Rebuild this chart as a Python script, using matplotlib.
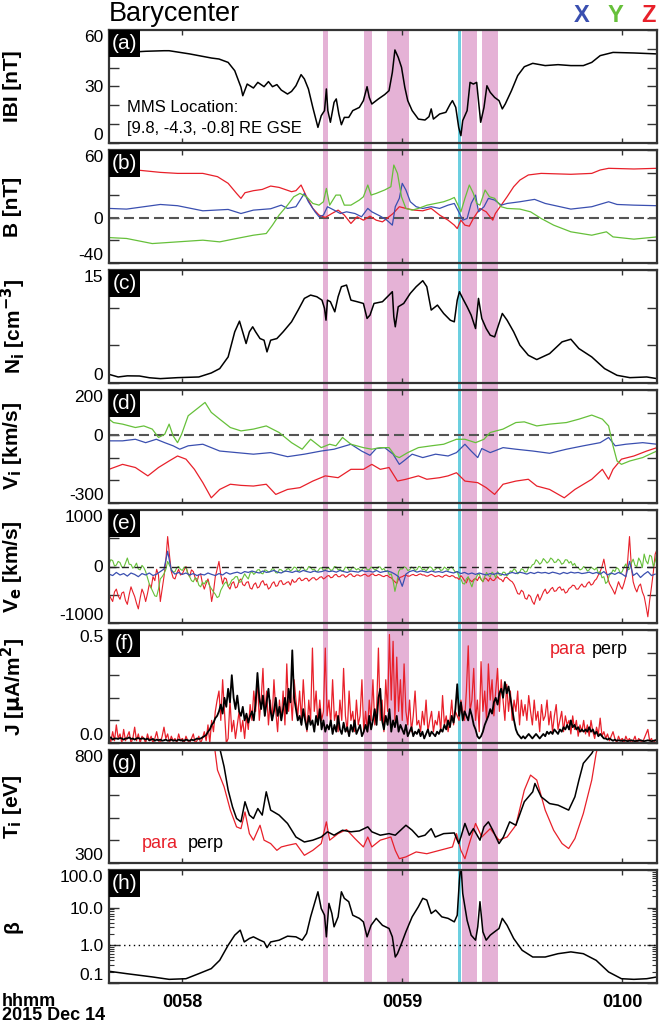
import numpy as np
import matplotlib
matplotlib.use('Agg')
import matplotlib.pyplot as plt
from matplotlib.patches import Rectangle
from matplotlib.ticker import FixedLocator, NullFormatter, LogLocator

plt.rcParams['font.family'] = ['Liberation Sans', 'DejaVu Sans']

# ---------------- time axis (seconds after 00:57:40 UT) ----------------
T_MIN, T_MAX = 0.0, 149.5
time_ticks = [20, 80, 140]
time_labels = ['0058', '0059', '0100']

pink_bands = [(58.5, 59.7), (69.5, 71.7), (75.8, 81.8), (96.3, 100.4), (101.7, 106.1)]
cyan_bands = [(95.2, 96.0)]

# ---------------- (a) |B| ----------------
bmag_t = [0, 4.8, 10, 15, 16.4, 22, 28, 30, 32.5, 34.3, 36, 36.5, 37.7, 39.4, 40.6, 42.3, 43.5,
          44.6, 45.8, 47, 48.7, 49.8, 51, 52.4, 53.3, 54.4, 55.6, 57, 57.9, 58.8, 59.3, 59.7,
          60.4, 61.4, 62, 62.7, 63.4, 64.2, 65.4, 66.5, 68.3, 69.4, 70.4, 71, 71.7, 73.5, 75.2,
          76.4, 77.3, 78, 78.9, 79.8, 80.7, 81.5, 82.7, 84.4, 86.2, 87.3, 87.9, 88.5, 90.2, 91.9,
          93.1, 93.7, 94.6, 95.4, 96, 96.5, 97.7, 98.5, 99.4, 100.3, 100.8, 101.4, 102.3, 103.1,
          104, 105.2, 106.4, 107.3, 108.1, 109.8, 111.5, 113.3, 115.6, 119, 122.5, 126, 129.4,
          131.7, 134, 137.5, 143.2, 149.5]
bmag_v = [47.6, 48.1, 48.7, 49.0, 49.0, 47.3, 45.1, 44.6, 42.8, 38.4, 29.6, 25.1, 31.3, 29.2, 32.2,
          29.9, 32.6, 29.9, 31.0, 28.1, 26.0, 27.4, 30.4, 36.3, 34.0, 28.7, 18.9, 8.3, 14.5, 17.2,
          28.7, 17.2, 11.0, 21.6, 23.4, 15.4, 9.7, 13.6, 13.6, 17.2, 18.9, 22.5, 29.9, 24.2, 20.7,
          23.4, 25.7, 27.8, 37.5, 49.4, 45.5, 40.2, 29.6, 22.5, 17.2, 12.7, 12.2, 14.0, 18.1, 12.7,
          15.4, 16.3, 20.7, 22.5, 18.9, 8.3, 3.9, 11.9, 17.2, 32.2, 31.3, 32.2, 22.5, 11.0, 18.9,
          30.4, 26.9, 24.2, 22.5, 18.1, 20.7, 27.8, 35.8, 40.5, 42.3, 41.1, 41.6, 41.1, 41.1, 42.8,
          46.4, 48.1, 47.8, 47.3]

# ---------------- (b) B components ----------------
bz_t = [0, 4.8, 14, 18.7, 25.6, 29.6, 32.5, 34.8, 36, 37.1, 39.4, 41.8, 44.1, 46.4, 49.8, 51, 52.4,
        53.9, 55.6, 57.3, 59, 60.8, 62.5, 64.2, 66, 67.7, 69.4, 71.2, 72.9, 74.6, 75.8, 77.5, 79.2,
        81, 83.3, 85.6, 87.9, 90.2, 92.5, 94.2, 95, 96, 97.1, 98.3, 99.4, 101.2, 102.9, 104.7,
        105.4, 107, 108.6, 110.4, 112.1, 114.4, 117.9, 126, 131.7, 134, 136.3, 143.2, 149.5]
bz_v = [43.8, 43.2, 40.2, 39.3, 39.3, 36.4, 30.5, 21.6, 17.2, 22.2, 24.0, 25.1, 28.1, 26.9, 23.1,
        24.0, 29.0, 18.6, 8.3, 2.4, 0.3, 3.8, 6.8, 2.4, -5.0, 0.9, -2.1, 1.5, -2.1, -3.6, -0.6,
        3.8, 9.8, 8.3, 6.8, 6.2, 8.3, 2.4, -2.1, -6.5, -9.5, -2.1, -6.5, -7.4, -0.6, 8.3, 5.3,
        -2.1, 3.8, 11.2, 18.6, 27.5, 33.4, 37.9, 39.3, 38.5, 39.3, 42.3, 43.8, 43.2, 43.8]

bx_t = [0, 4.8, 14, 18.7, 25.6, 32.5, 36, 39.4, 44.1, 47, 48.7, 51, 53.3, 54.4, 56.2, 57.3, 58.5,
        59.6, 61.4, 63.1, 64.8, 67.1, 68.9, 70.6, 71.7, 74, 75.8, 77.3, 78.1, 79.2, 80, 81, 82.2,
        83.8, 85.6, 87.9, 90.2, 92.5, 94.2, 95.4, 96.5, 97.7, 98.8, 100, 100.8, 102.3, 103.5,
        105.2, 107, 108.6, 112.1, 116.1, 119, 126, 131.7, 136.3, 138.6, 143.2, 149.5]
bx_v = [8.3, 7.7, 11.8, 10.7, 6.2, 7.4, 3.8, 6.8, 8.0, 11.2, 8.3, 9.8, 21.6, 14.2, 5.3, 0.9, 2.4,
        9.8, 6.8, 3.8, 5.3, 3.8, 0.9, 8.3, 5.3, 1.5, -2.1, -6.5, 9.8, 17.2, 30.5, 24.6, 14.2, 9.8,
        8.3, 9.8, 8.3, 11.2, 12.7, 5.3, -2.1, -0.6, 12.7, 20.1, 5.3, 9.8, 17.2, 15.7, 11.2, 12.7,
        14.2, 16.3, 12.7, 7.7, 9.8, 14.2, 11.8, 11.2, 10.7]

by_t = [0, 4.8, 11.8, 18.7, 25.6, 30.2, 34.8, 39.4, 42.9, 44.6, 46.4, 48.7, 50.4, 52.1, 53.9, 55.6,
        57.3, 58.5, 59.3, 60.2, 61.9, 63.1, 64.2, 66, 68.3, 69.4, 70.6, 71.5, 72.9, 75.2, 76.9,
        77.7, 78.7, 79.8, 81, 82.7, 84.4, 86.8, 89.1, 91.3, 93.1, 94.2, 95.4, 96, 97.1, 98.3,
        99.4, 100.3, 101.2, 102.6, 103.8, 105.2, 107, 108.6, 112.1, 115, 117.9, 121.3, 126,
        131.7, 135.7, 137.5, 143.2, 149.5]
by_v = [-17.5, -18.3, -22.8, -21.3, -19.8, -21.3, -18.3, -15.4, -13.9, -6.5, 2.4, 11.2, 18.6, 21.6,
        18.6, 12.7, 11.2, 14.2, 26.0, 11.2, 20.1, 20.1, 11.2, 11.2, 15.7, 18.6, 29.0, 20.1, 21.6,
        24.6, 27.5, 46.7, 39.3, 18.6, 8.3, 6.8, 8.3, 11.2, 12.7, 14.2, 16.3, 18.0, 9.8, 5.3, 17.2,
        29.0, 21.6, 12.7, 11.2, 24.6, 18.6, 17.2, 9.8, 8.3, 7.7, 5.3, -0.6, -6.5, -12.4, -15.4,
        -12.4, -16.9, -18.9, -16.9]

# ---------------- (c) Ni ----------------
ni_t = [0, 2.5, 5, 8.3, 11, 14, 18.7, 24.5, 27.9, 30.2, 32.5, 34.3, 35.6, 36.6, 37.4, 38.3, 39.2,
        40, 41.2, 42.3, 43.1, 44.1, 45.8, 47.5, 49.8, 51.6, 53.3, 55, 56.7, 58.1, 58.8, 59.2,
        59.6, 60.4, 61.6, 62.5, 63.4, 64.8, 66, 67.7, 69.4, 70.4, 71.2, 72.3, 74.6, 76.4, 77.3,
        77.7, 78.1, 78.9, 80.4, 82.2, 83.8, 85.6, 86.7, 87.9, 89.6, 91.3, 93.1, 94.2, 95, 95.6,
        96.5, 97.7, 98.8, 100, 100.8, 101.7, 102.9, 104, 105.2, 106.4, 107.3, 108.6, 110.4,
        112.1, 114.4, 116.7, 120.2, 123.6, 126, 128.2, 131.7, 135.2, 138.6, 142.1, 146.7, 149.5]
ni_v = [1.15, 0.8, 0.95, 0.93, 0.7, 0.58, 0.71, 0.8, 1.33, 1.91, 3.46, 6.79, 8.21, 6.57, 5.24,
        6.79, 7.46, 6.79, 5.9, 5.68, 4.13, 5.68, 5.9, 6.79, 8.12, 9.68, 11.23, 11.67, 11.45, 11.0,
        9.9, 8.34, 11.0, 10.79, 9.45, 11.45, 12.78, 13.0, 11.0, 10.79, 10.56, 8.57, 9.01, 10.56,
        10.79, 11.67, 12.12, 8.79, 7.46, 10.12, 10.56, 11.9, 12.78, 13.58, 12.78, 9.68, 10.34,
        9.23, 8.34, 8.12, 11.0, 12.12, 11.23, 10.12, 9.01, 7.23, 11.23, 8.57, 7.23, 6.35, 6.12,
        7.9, 9.23, 8.34, 6.79, 5.02, 3.68, 3.11, 3.9, 5.46, 5.81, 4.57, 3.46, 1.91, 1.02, 0.71,
        0.8, 0.58]

# ---------------- (d) Vi components ----------------
viy_t = [0, 1.2, 3.7, 7.2, 9.5, 11.8, 13.5, 15.2, 16.4, 17.5, 18.7, 19.8, 21.6, 24.5, 26.2, 27.9,
         30.2, 33.1, 36, 39.4, 42.9, 46.4, 49.8, 52.7, 55, 57.9, 60.2, 61.9, 63.7, 66, 69.4, 71.7,
         74, 76.4, 78.1, 79.2, 81.5, 84.4, 87.9, 91.3, 94.8, 97.1, 100, 102.3, 104, 107.5, 111,
         113.3, 116.7, 120.2, 124.8, 128.2, 131.7, 134.6, 136.3, 137.5, 138.6, 139.8, 142.1,
         145.6, 148.5, 149.5]
viy_v = [71, 56, 49, 34, 41, 27, -10, 4, 49, -3, -33, 4, 86, 123, 145, 101, 71, 34, 19, 27, 41, 12,
         -33, -62, -18, -55, -40, -47, -10, -40, -55, -62, -55, -55, -92, -99, -77, -55, -47, -40,
         -18, -18, -33, -18, 12, 27, 56, 59, 41, 49, 56, 71, 89, 71, 41, -47, -114, -129, -114, -99,
         -77, -70]

vix_t = [0, 3.7, 7.2, 10, 12.9, 15.2, 17.5, 19.3, 21.6, 25.6, 30.2, 34.8, 39.4, 44.1, 48.7, 53.3,
         57.9, 61.4, 66, 68.9, 71.2, 72.9, 75.2, 77.5, 79.2, 80.4, 82.7, 85.6, 89.1, 92.5, 94.8,
         97.1, 98.8, 100.6, 101.7, 104, 107.5, 111, 115.6, 120.2, 124.8, 129.4, 134, 136.3, 138.1,
         141, 145.6, 149.5]
vix_v = [-25, -25, -18, -33, -18, -33, -47, -62, -47, -40, -70, -77, -84, -77, -95, -84, -70, -62,
         -40, -70, -89, -59, -55, -84, -129, -114, -84, -99, -84, -92, -77, -40, -70, -99, -59,
         -77, -55, -62, -70, -80, -62, -47, -33, -10, -47, -40, -33, -40]

viz_t = [0, 3.7, 7.2, 10.6, 13.5, 16.4, 18.7, 21, 23.3, 25.6, 27.9, 30.2, 33.1, 36, 39.4, 42.9,
         45.5, 48.7, 52.1, 55.6, 59, 62.5, 66, 69.4, 71.7, 74, 76.4, 78.7, 81, 84.4, 86.7, 90.2,
         92.5, 94.8, 97.1, 100.6, 102.9, 105.2, 107.5, 111, 114.4, 116.7, 120.2, 124.2, 127.1,
         131.7, 134.6, 136.3, 137.5, 139.8, 143.2, 146.7, 149.5]
viz_v = [-151, -129, -143, -180, -143, -114, -92, -106, -151, -210, -277, -240, -217, -222, -225,
         -217, -262, -240, -232, -203, -180, -188, -151, -151, -129, -151, -143, -203, -195, -180,
         -195, -188, -180, -166, -203, -210, -232, -262, -217, -203, -195, -225, -240, -277, -240,
         -195, -151, -195, -151, -106, -92, -70, -55]

# ---------------- (e) Ve components ----------------
# Z and Y sampled every 0.5 s, X every 1 s
ve_z = [-490, -560, -620, -450, -400, -520, -580, -470, -450, -600, -670, -500, -360, -450, -530, -650, -750, -560, -400, -480,
        -620, -480, -310, -380, -180, -250, -50, -150, -620, -400, -180, 100, 530, 200, -90, -200, -220, -120, -50, -150,
        -130, -60, 0, -120, -180, -60, -90, -200, -270, -150, -130, -300, -400, -300, -220, -350, -620, -450, -180, -50,
        90, -150, -310, -200, -220, -350, -400, -300, -270, -380, -360, -250, -220, -320, -340, -280, -270, -380, -400, -320,
        -290, -380, -360, -280, -250, -330, -310, -400, -370, -300, -270, -350, -340, -260, -250, -320, -310, -280, -270, -330,
        -230, -280, -270, -220, -200, -250, -240, -210, -210, -260, -230, -200, -200, -240, -220, -190, -180, -220, -200, -170,
        -160, -200, -190, -150, -140, -180, -180, -150, -150, -190, -170, -140, -130, -170, -180, -150, -150, -170, -160, -140,
        -140, -170, -170, -140, -130, -160, -160, -140, -150, -170, -180, -160, -160, -190, -200, -240, -270, -300, -220, -190,
        -180, -160, -150, -170, -170, -150, -140, -160, -160, -140, -130, -150, -150, -170, -170, -150, -140, -160, -180, -170,
        -160, -180, -190, -160, -150, -170, -180, -160, -170, -200, -200, -230, -160, -200, -250, -290, -200, -240, -270, -230,
        -210, -250, -180, -230, -270, -200, -220, -260, -200, -240, -250, -210, -180, -220, -230, -270, -200, -190, -220, -250,
        -270, -320, -400, -480, -490, -420, -450, -560, -580, -500, -530, -620, -670, -560, -490, -600, -530, -450, -400, -480,
        -450, -400, -370, -440, -430, -380, -360, -420, -400, -470, -450, -390, -370, -330, -340, -400, -400, -350, -310, -360,
        -360, -300, -270, -330, -310, -250, -220, -150, -90, 0, 130, -50, -180, -300, -360, -420, -490, -380, -270, -350,
        -400, -300, -180, 100, 530, 0, -270, -380, -450, -350, -310, -450, -530, -700, -890, -600, -360, -100, 220, 300]
ve_y = [45, 120, 105, 10, 25, 90, 70, -10, -20, 60, 150, 40, 35, -30, 0, 60, -45, -60, 20, -20,
        -90, -200, -310, -380, -450, -520, -530, -400, -220, -180, -130, -50, 90, 20, -45, -100, -90, -20, 0, -50,
        -70, -10, -20, -120, -180, -250, -270, -200, -220, -330, -360, -280, -310, -250, -270, -350, -400, -450, -490, -550,
        -530, -420, -360, -300, -270, -350, -310, -240, -220, -180, -180, -280, -270, -200, -130, -180, -220, -120, -90, -140,
        -110, -60, -55, -120, -130, -60, -70, -100, -90, -40, -45, -110, -115, -50, -60, -90, -90, -50, -35, -80,
        -55, -10, -20, -80, -70, -10, -25, -70, -60, 0, -10, -60, -45, -90, -80, -30, -20, -70, -55, -30,
        -25, -70, -60, 0, -10, -60, -45, -80, -70, -10, -20, -70, -55, -10, -25, -60, -35, -70, -60, -20,
        -20, -60, -55, -10, -25, -60, -45, -5, -10, -60, -35, -90, -70, -150, -130, -250, -440, -300, -90, -40,
        -45, -5, -20, -70, -60, -10, -25, -70, -55, 0, -10, -60, -45, -80, -35, -5, -20, -70, -55, -20,
        -25, -70, -60, -10, -35, -70, -20, -5, -55, -100, -90, -180, -220, -300, -310, -220, -180, -280, -360, -250,
        -220, -150, -130, -220, -270, -180, -105, -160, -180, -100, -130, -200, -90, -150, -160, -100, -105, -170, -130, -80,
        -90, -40, -70, -130, -105, -40, -55, -100, -90, -10, -25, 30, 45, 120, 90, 40, 70, 140, 105, 60,
        90, 150, 125, 70, 80, 130, 100, 40, 60, 120, 115, 60, 90, 20, 55, -10, -20, -60, -45, 0,
        -25, -80, -60, -10, -35, -60, -20, -120, -90, -200, -180, -300, -270, -150, -130, -60, -90, -20, -45, -120,
        -90, -10, 45, -60, -45, 60, 130, 20, 0, 150, 90, -20, 220, 100, 45, 200, 180, 0, 90, 250]
ve_x = [-135, -160, -105, -150, -125, -170, -115, -140, -180, -125,
        -150, -115, -160, -135, -90, -45, 270, -70, -135, -105,
        -140, -115, -150, -125, -160, -135, -150, -115, -140, -160,
        -125, -150, -105, -135, -115, -100, -125, -90, -105, -80,
        -100, -115, -80, -105, -90, -70, -100, -115, -80, -90,
        -105, -80, -100, -70, -90, -105, -80, -100, -90, -70,
        -90, -80, -100, -70, -90, -105, -80, -90, -100, -70,
        -90, -80, -100, -70, -105, -90, -80, -100, -135, -180,
        -350, -135, -90, -70, -100, -80, -90, -105, -80, -100,
        -90, -105, -80, -100, -115, -90, -125, -105, -135, -115,
        -140, -115, -135, -150, -125, -140, -115, -135, -150, -125,
        -105, -125, -100, -115, -135, -105, -125, -100, -115, -105,
        -125, -100, -115, -135, -105, -125, -100, -115, -105, -125,
        -115, -100, -125, -105, -135, -90, -150, -115, -140, -105,
        -135, -180, 90, -160, -115, -195, -135, -90, -160, -135]

# ---------------- (f) J para / perp (0.5 s samples) ----------------
j_para = [0.03, 0.005, 0.05, 0.01, 0.08, 0.02, 0.04, 0.0, 0.06, 0.01, 0.03, 0.05, 0.0, 0.02, 0.07, 0.01, 0.04, 0.0, 0.03, 0.02,
          0.0, 0.04, 0.01, 0.03, 0.0, 0.02, 0.05, 0.01, 0.0, 0.03, 0.07, 0.02, 0.04, 0.0, 0.03, 0.01, 0.02, 0.0, 0.04, 0.01,
          0.02, 0.0, 0.03, 0.01, 0.0, 0.02, 0.04, 0.0, 0.01, 0.03, 0.0, 0.02, 0.05, 0.01, 0.08, 0.0, 0.1, 0.05, 0.14, 0.19,
          0.23, 0.1, 0.28, 0.14, 0.0, 0.02, 0.19, 0.05, 0.1, 0.02, 0.08, 0.14, 0.05, 0.1, 0.02, 0.12, 0.06, 0.17, 0.1, 0.23,
          0.14, 0.28, 0.1, 0.19, 0.33, 0.12, 0.23, 0.08, 0.19, 0.1, 0.28, 0.14, 0.05, 0.19, 0.1, 0.23, 0.08, 0.35, 0.14, 0.23,
          0.1, 0.28, 0.19, 0.12, 0.23, 0.1, 0.28, 0.14, 0.05, 0.19, 0.1, 0.42, 0.14, 0.23, 0.08, 0.19, 0.1, 0.14, 0.42, 0.12,
          0.19, 0.08, 0.28, 0.1, 0.14, 0.05, 0.19, 0.1, 0.33, 0.12, 0.05, 0.23, 0.1, 0.14, 0.05, 0.19, 0.08, 0.12, 0.28, 0.05,
          0.14, 0.05, 0.19, 0.1, 0.28, 0.08, 0.14, 0.42, 0.1, 0.19, 0.05, 0.28, 0.14, 0.48, 0.19, 0.45, 0.1, 0.38, 0.14, 0.28,
          0.1, 0.35, 0.14, 0.08, 0.19, 0.05, 0.12, 0.23, 0.08, 0.1, 0.05, 0.14, 0.08, 0.19, 0.05, 0.1, 0.14, 0.05, 0.1, 0.08,
          0.14, 0.05, 0.21, 0.08, 0.12, 0.05, 0.1, 0.19, 0.08, 0.14, 0.12, 0.1, 0.19, 0.14, 0.1, 0.23, 0.43, 0.14, 0.19, 0.33,
          0.1, 0.19, 0.05, 0.36, 0.14, 0.23, 0.1, 0.35, 0.19, 0.28, 0.12, 0.23, 0.33, 0.14, 0.28, 0.19, 0.1, 0.26, 0.14, 0.23,
          0.1, 0.19, 0.14, 0.23, 0.08, 0.19, 0.12, 0.17, 0.1, 0.21, 0.14, 0.08, 0.19, 0.1, 0.14, 0.05, 0.17, 0.1, 0.12, 0.19,
          0.08, 0.14, 0.05, 0.12, 0.17, 0.06, 0.1, 0.14, 0.05, 0.12, 0.08, 0.1, 0.04, 0.12, 0.06, 0.1, 0.03, 0.08, 0.05, 0.1,
          0.04, 0.08, 0.03, 0.1, 0.05, 0.02, 0.07, 0.04, 0.11, 0.03, 0.05, 0.02, 0.04, 0.01, 0.03, 0.05, 0.02, 0.0, 0.03, 0.01,
          0.02, 0.0, 0.03, 0.01, 0.02, 0.0, 0.01, 0.03, 0.0, 0.02, 0.01, 0.0, 0.02, 0.04, 0.06, 0.01, 0.02, 0.0, 0.01, 0.02]
j_perp = [0.02, 0.025, 0.015, 0.02, 0.02, 0.018, 0.022, 0.02, 0.015, 0.02, 0.02, 0.025, 0.018, 0.02, 0.015, 0.02, 0.022, 0.018, 0.02, 0.02,
          0.015, 0.02, 0.012, 0.015, 0.018, 0.01, 0.015, 0.012, 0.015, 0.01, 0.012, 0.015, 0.01, 0.012, 0.015, 0.01, 0.012, 0.01, 0.015, 0.012,
          0.012, 0.01, 0.015, 0.012, 0.01, 0.015, 0.012, 0.015, 0.02, 0.018, 0.02, 0.025, 0.03, 0.035, 0.05, 0.06, 0.08, 0.09, 0.11, 0.12,
          0.14, 0.17, 0.13, 0.2, 0.16, 0.24, 0.18, 0.3, 0.2, 0.15, 0.21, 0.14, 0.12, 0.16, 0.1, 0.13, 0.09, 0.12, 0.14, 0.1,
          0.18, 0.31, 0.2, 0.15, 0.21, 0.12, 0.18, 0.24, 0.15, 0.1, 0.14, 0.2, 0.12, 0.16, 0.1, 0.15, 0.2, 0.13, 0.24, 0.18,
          0.41, 0.2, 0.15, 0.1, 0.12, 0.08, 0.15, 0.1, 0.06, 0.12, 0.08, 0.1, 0.05, 0.12, 0.08, 0.15, 0.06, 0.1, 0.05, 0.08,
          0.06, 0.1, 0.04, 0.08, 0.05, 0.12, 0.06, 0.04, 0.09, 0.05, 0.07, 0.03, 0.08, 0.05, 0.1, 0.04, 0.06, 0.08, 0.03, 0.05,
          0.08, 0.05, 0.12, 0.06, 0.1, 0.15, 0.08, 0.2, 0.24, 0.1, 0.06, 0.12, 0.08, 0.15, 0.05, 0.1, 0.07, 0.12, 0.05, 0.08,
          0.06, 0.04, 0.08, 0.03, 0.05, 0.07, 0.03, 0.05, 0.04, 0.06, 0.03, 0.05, 0.02, 0.04, 0.06, 0.03, 0.05, 0.04, 0.03, 0.05,
          0.04, 0.06, 0.05, 0.08, 0.06, 0.1, 0.07, 0.12, 0.09, 0.15, 0.26, 0.12, 0.18, 0.1, 0.14, 0.12, 0.1, 0.15, 0.12, 0.08,
          0.06, 0.03, 0.02, 0.03, 0.05, 0.08, 0.1, 0.12, 0.15, 0.13, 0.18, 0.2, 0.17, 0.22, 0.24, 0.2, 0.27, 0.22, 0.25, 0.2,
          0.15, 0.1, 0.06, 0.04, 0.03, 0.02, 0.03, 0.02, 0.03, 0.04, 0.03, 0.02, 0.03, 0.04, 0.03, 0.02, 0.03, 0.04, 0.03, 0.05,
          0.04, 0.05, 0.04, 0.06, 0.05, 0.04, 0.06, 0.05, 0.07, 0.06, 0.08, 0.06, 0.1, 0.07, 0.08, 0.06, 0.07, 0.05, 0.06, 0.05,
          0.06, 0.05, 0.07, 0.05, 0.06, 0.04, 0.05, 0.03, 0.04, 0.03, 0.02, 0.02, 0.015, 0.02, 0.015, 0.01, 0.015, 0.01, 0.012, 0.01,
          0.01, 0.012, 0.01, 0.008, 0.01, 0.012, 0.01, 0.008, 0.01, 0.01, 0.012, 0.01, 0.008, 0.01, 0.012, 0.01, 0.008, 0.01, 0.012, 0.01]

# ---------------- (g) Ti para / perp ----------------
tperp_t = [29.6, 31.4, 32.5, 33.7, 34.8, 36, 37.1, 38.3, 39.4, 40.6, 41.8, 42.9, 44.1, 46.4, 48.7,
           51, 53.3, 55.6, 57.9, 59.6, 61.4, 63.7, 66, 68.3, 70.6, 71.7, 74, 76.4, 78.1, 81, 82.7,
           84.4, 86.2, 87.9, 89, 91.3, 94.2, 95.4, 96, 97.1, 98.3, 99.4, 101.2, 102.3, 103.5, 104.7,
           106.4, 107.6, 109.3, 111, 113.3, 115.6, 116.2, 117.9, 120.2, 122.5, 125.4, 127.1, 128.2,
           129.4, 131.7, 133.2]
tperp_v = [850, 726, 623, 548, 497, 482, 571, 512, 497, 541, 512, 615, 534, 512, 475, 415, 393, 401,
           415, 438, 423, 445, 438, 442, 460, 438, 423, 430, 423, 467, 445, 415, 423, 452, 415, 430,
           433, 386, 415, 475, 423, 452, 401, 460, 482, 445, 386, 415, 482, 467, 571, 615, 652, 593,
           563, 556, 534, 593, 667, 741, 785, 830]
tpara_t = [28.5, 29.6, 31.4, 33.1, 34.8, 36, 37.1, 38.3, 39.4, 41.2, 42.3, 44.1, 45.8, 47, 48.7, 51,
           53.3, 55.6, 57.9, 59.3, 60.2, 62.5, 64.8, 67.1, 69.4, 70.6, 71.7, 74, 76.9, 78.1, 79.2,
           81, 83.8, 86.7, 90.2, 93.7, 94.8, 96, 97.1, 98.3, 100, 101.7, 104, 106.4, 108.6, 111,
           113.3, 115, 116.7, 119, 121.3, 123.6, 125.4, 127.1, 129.4, 131.7, 132.9, 133.8]
tpara_v = [850, 711, 637, 534, 460, 452, 526, 430, 401, 467, 401, 386, 356, 371, 378, 386, 334, 356,
           386, 482, 401, 430, 448, 408, 371, 415, 371, 401, 415, 356, 319, 327, 349, 341, 356, 371,
           430, 356, 319, 386, 475, 415, 452, 401, 415, 467, 622, 689, 667, 534, 445, 386, 364, 408,
           519, 667, 785, 840]

# ---------------- (h) beta ----------------
beta_t = [0, 4.8, 11.8, 16.4, 21, 24.5, 27.9, 30.2, 32.5, 34.3, 35.8, 36.9, 38.3, 39.4, 41.2, 42.3,
          43.1, 44.1, 46.4, 48.7, 51, 52.7, 53.9, 55, 56.2, 57, 57.9, 58.8, 59.3, 60, 60.8, 61.4,
          62.5, 63.4, 64.2, 65.4, 66.5, 68.3, 69.4, 70.4, 71.5, 72.9, 74.6, 76.4, 77.3, 78.1, 78.7,
          79.8, 81, 82.7, 84.4, 85.6, 86.7, 87.9, 89.1, 90.8, 92.5, 94.2, 95, 95.6, 96, 96.5, 97.7,
          98.8, 100, 100.6, 101.2, 102, 102.9, 104, 105.2, 106.4, 107.3, 108.6, 110.4, 112.7,
          115.6, 119, 122.5, 126, 129.4, 132.9, 136.3, 139.8, 143.2, 146.7, 149.5]
beta_v = [0.205, 0.177, 0.145, 0.125, 0.13, 0.177, 0.241, 0.401, 1.006, 1.86, 2.53, 1.23, 1.52,
          1.68, 1.37, 1.23, 0.87, 1.23, 1.37, 1.75, 1.68, 1.37, 2.06, 5.7, 14.4, 26.4, 9.5, 6.3,
          1.68, 13.0, 7.0, 3.1, 5.7, 26.4, 17.7, 14.4, 6.3, 5.2, 4.2, 1.68, 3.4, 5.2, 3.4, 2.8,
          1.68, 0.49, 0.6, 1.12, 2.29, 5.7, 10.6, 17.7, 15.9, 7.0, 8.6, 5.7, 5.2, 4.2, 6.3, 54.0,
          150.0, 23.9, 4.6, 1.86, 1.37, 3.1, 14.4, 2.29, 1.37, 1.86, 2.29, 2.8, 5.2, 3.4, 1.52,
          0.74, 0.49, 0.49, 0.6, 0.67, 0.6, 0.4, 0.196, 0.13, 0.125, 0.13, 0.145]

# ---------------- styling ----------------
RED = '#e8202a'
GREEN = '#66c03a'
BLUE = '#3a4fb0'
PINK = '#e5b2d6'
CYAN = '#6ccfe0'
FRAME = '#333333'

W, H = 661, 1026
fig = plt.figure(figsize=(W / 100, H / 100), dpi=100)
fig.patch.set_facecolor('white')


def fx(px):
    return px / W


def fy(py):
    return 1 - py / H


LEFT, RIGHT = 109, 657
PANEL_H = 113
tops = [30 + 120 * i for i in range(8)]

# background axes for shaded intervals (continuous across panels)
bg = fig.add_axes([fx(LEFT), fy(tops[-1] + PANEL_H), (RIGHT - LEFT) / W,
                   (tops[-1] + PANEL_H - tops[0]) / H], zorder=0)
bg.set_xlim(T_MIN, T_MAX)
bg.set_ylim(0, 1)
bg.axis('off')
for a, b in pink_bands:
    bg.axvspan(a, b, color=PINK, lw=0)
for a, b in cyan_bands:
    bg.axvspan(a, b, color=CYAN, lw=0)

axes = []
for i, top in enumerate(tops):
    ax = fig.add_axes([fx(LEFT), fy(top + PANEL_H), (RIGHT - LEFT) / W, PANEL_H / H], zorder=1)
    ax.set_facecolor('none')
    ax.set_xlim(T_MIN, T_MAX)
    for s in ax.spines.values():
        s.set_linewidth(1.6)
        s.set_color(FRAME)
    ax.xaxis.set_major_locator(FixedLocator(time_ticks))
    ax.tick_params(axis='x', which='major', direction='in', top=True, bottom=True,
                   length=3.6, width=1.0, color=FRAME)
    if i < 7:
        ax.set_xticklabels([])
    ax.tick_params(axis='y', which='both', direction='in', left=True, right=True,
                   labelsize=12.5, pad=4, color=FRAME)
    ax.tick_params(axis='y', which='major', length=7.2, width=1.0)
    axes.append(ax)


def set_yticks(ax, ticks, labeled):
    ax.set_yticks(ticks)
    ax.set_yticklabels([lab if lab is not None else '' for lab in labeled])


def inward_end_labels(ax):
    ticks = ax.yaxis.get_major_ticks()
    ticks[0].label1.set_verticalalignment('bottom')
    ticks[-1].label1.set_verticalalignment('top')


LW_K = 1.1
LW_C = 0.9

# (a)
ax = axes[0]
ax.plot(bmag_t, bmag_v, color='black', lw=LW_K)
ax.set_ylim(0, 60)
set_yticks(ax, [0, 10, 20, 30, 40, 50, 60], ['0', None, None, '30', None, None, '60'])
fig.text(fx(127), fy(108), 'MMS Location:', fontsize=12, va='center', ha='left')
fig.text(fx(127), fy(128), '[9.8, -4.3, -0.8] RE GSE', fontsize=12, va='center', ha='left')

# (b)
ax = axes[1]
ax.axhline(0, color='#555555', lw=1.5, dashes=(4.8, 2.4))
ax.plot(bz_t, bz_v, color=RED, lw=LW_C)
ax.plot(bx_t, bx_v, color=BLUE, lw=LW_C)
ax.plot(by_t, by_v, color=GREEN, lw=LW_C)
ax.set_ylim(-40, 60)
set_yticks(ax, [-40, -20, 0, 20, 40, 60], ['-40', None, '0', None, None, '60'])

# (c)
ax = axes[2]
ax.plot(ni_t, ni_v, color='black', lw=LW_K)
ax.set_ylim(0, 15)
set_yticks(ax, [0, 5, 10, 15], ['0', None, None, '15'])

# (d)
ax = axes[3]
ax.axhline(0, color='#555555', lw=1.5, dashes=(4.8, 2.4))
ax.plot(viz_t, viz_v, color=RED, lw=LW_C)
ax.plot(vix_t, vix_v, color=BLUE, lw=LW_C)
ax.plot(viy_t, viy_v, color=GREEN, lw=LW_C)
ax.set_ylim(-300, 200)
set_yticks(ax, [-300, -200, -100, 0, 100, 200], ['-300', None, None, '0', None, '200'])

# (e)
ax = axes[4]
ve_t_half = np.arange(len(ve_z)) * 0.5
ve_t_one = np.arange(len(ve_x)) * 1.0
ax.plot(ve_t_half, ve_z, color=RED, lw=0.8)
ax.plot(ve_t_half, ve_y, color=GREEN, lw=0.8)
ax.plot(ve_t_one, ve_x, color=BLUE, lw=0.9)
ax.axhline(0, color='#222222', lw=1.0, dashes=(5, 4))
ax.set_ylim(-1000, 1000)
set_yticks(ax, [-1000, -500, 0, 500, 1000], ['-1000', None, '0', None, '1000'])

# (f)
ax = axes[5]
j_t = np.arange(len(j_para)) * 0.5
ax.plot(j_t, j_para, color=RED, lw=0.9)
ax.plot(j_t, j_perp, color='black', lw=1.3)
ax.set_ylim(0, 0.5)
set_yticks(ax, [0, 0.1, 0.2, 0.3, 0.4, 0.5], ['0.0', None, None, None, None, '0.5'])
fig.text(fx(550), fy(650), 'para', color=RED, fontsize=13, va='center', ha='left')
fig.text(fx(592), fy(650), 'perp', color='black', fontsize=13, va='center', ha='left')

# (g)
ax = axes[6]
ax.plot(tpara_t, tpara_v, color=RED, lw=LW_C)
ax.plot(tperp_t, tperp_v, color='black', lw=LW_K)
ax.set_ylim(300, 800)
set_yticks(ax, [300, 400, 500, 600, 700, 800], ['300', None, None, None, None, '800'])
fig.text(fx(142), fy(844), 'para', color=RED, fontsize=13, va='center', ha='left')
fig.text(fx(188), fy(844), 'perp', color='black', fontsize=13, va='center', ha='left')

# (h)
ax = axes[7]
ax.set_yscale('log')
ax.axhline(1.0, color='black', lw=1.0, ls=(0, (1, 2.5)))
ax.plot(beta_t, beta_v, color='black', lw=LW_K)
ax.set_ylim(0.1, 100)
ax.yaxis.set_major_locator(FixedLocator([0.1, 1, 10, 100]))
ax.set_yticklabels(['0.1', '1.0', '10.0', '100.0'])
ax.yaxis.set_minor_locator(LogLocator(base=10, subs=np.arange(2, 10)))
ax.yaxis.set_minor_formatter(NullFormatter())
ax.tick_params(axis='y', which='minor', length=3.6, width=0.8, direction='in', left=True, right=True)
ax.tick_params(axis='y', which='major', length=7.2, width=1.0)
ax.set_xticklabels(time_labels, fontsize=13, fontweight='bold')
ax.tick_params(axis='x', pad=8)

for ax in axes:
    inward_end_labels(ax)

# panel tags
tags = ['(a)', '(b)', '(c)', '(d)', '(e)', '(f)', '(g)', '(h)']
for top, tag in zip(tops, tags):
    fig.add_artist(Rectangle((fx(LEFT), fy(top + 27)), 31 / W, 27 / H, transform=fig.transFigure,
                             facecolor='black', edgecolor='none', zorder=5))
    fig.text(fx(LEFT + 15.5), fy(top + 13.5), tag, color='white', fontsize=15,
             ha='center', va='center', zorder=6)

# y labels
ylabels = ['IBI [nT]', 'B [nT]', r'N$_\mathbf{i}$ [cm$^\mathbf{-3}$]', r'V$_\mathbf{i}$ [km/s]',
           r'V$_\mathbf{e}$ [km/s]', r'J [$\mathbf{\mu}$A/m$^\mathbf{2}$]', r'T$_\mathbf{i}$ [eV]', 'β']
for top, lab in zip(tops, ylabels):
    fig.text(fx(13), fy(top + PANEL_H / 2), lab, rotation=90, fontsize=15, fontweight='bold',
             ha='center', va='center')

# title and component legend
fig.text(fx(109), fy(21), 'Barycenter', fontsize=19.5, ha='left', va='baseline')
fig.text(fx(582), fy(15), 'X', color=BLUE, fontsize=17, fontweight='bold', ha='center', va='center')
fig.text(fx(615), fy(15), 'Y', color=GREEN, fontsize=17, fontweight='bold', ha='center', va='center')
fig.text(fx(648), fy(15), 'Z', color=RED, fontsize=17, fontweight='bold', ha='center', va='center')

# time label
fig.text(fx(2), fy(1001), 'hhmm', fontsize=13, fontweight='bold', ha='left', va='center')
fig.text(fx(2), fy(1016), '2015 Dec 14', fontsize=13, fontweight='bold', ha='left', va='center')

fig.savefig('out.png', dpi=100)
